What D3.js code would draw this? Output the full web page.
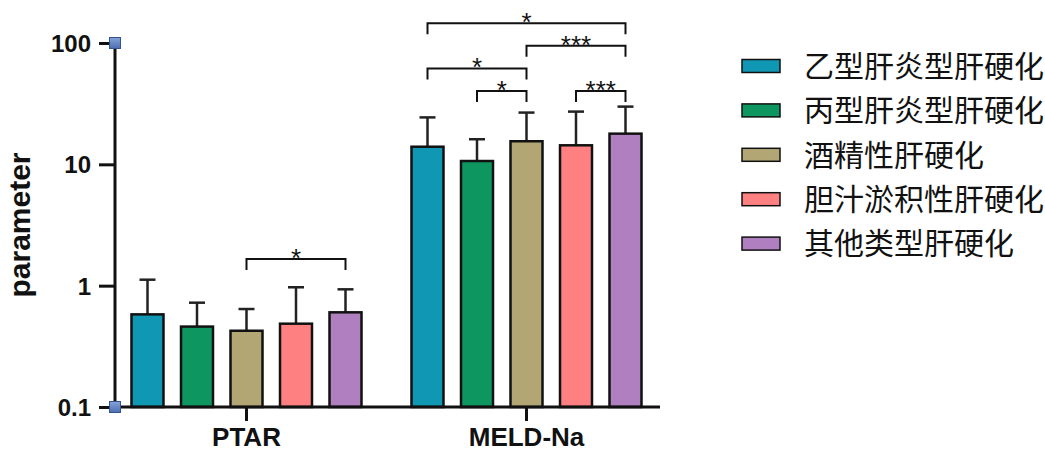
<!DOCTYPE html>
<html>
<head>
<meta charset="utf-8">
<script src="https://cdn.jsdelivr.net/npm/d3@7"></script>
<style>
  html, body { margin: 0; padding: 0; background: #fff; }
</style>
</head>
<body>
<div id="chart"></div>
<script>
// Data.
const groups = ["PTAR", "MELD-Na"];
const series = ["乙型肝炎型肝硬化", "丙型肝炎型肝硬化", "酒精性肝硬化", "胆汁淤积性肝硬化", "其他类型肝硬化"];
const colors = ["#1097b4", "#0e9660", "#b1a674", "#fe8080", "#b07fc0"];
const ptarMean = [0.58, 0.46, 0.425, 0.486, 0.603];
const ptarSD = [0.54, 0.264, 0.217, 0.484, 0.33];
const meldMean = [13.97, 10.65, 15.5, 14.35, 17.9];
const meldSD = [10.4, 5.45, 11.2, 12.85, 12.0];
const yTicks = [0.1, 1, 10, 100];
const yTickLabels = ["0.1", "1", "10", "100"];
// Significance brackets: group, from series index, to series index, label, tier.
const sigGroup = ["PTAR", "MELD-Na", "MELD-Na", "MELD-Na", "MELD-Na", "MELD-Na"];
const sigFrom = [2, 1, 3, 0, 2, 0];
const sigTo = [4, 2, 4, 2, 4, 4];
const sigLabel = ["*", "*", "***", "*", "***", "*"];
const sigTier = [0, 0, 0, 1, 2, 3];

const means = [ptarMean, meldMean];
const sds = [ptarSD, meldSD];

const width = 1045;
const height = 452;
const latin = "'Liberation Sans', Arial, sans-serif";
const cjk = "'Noto Sans CJK SC', sans-serif";

const svg = d3.select("#chart")
  .append("svg")
  .attr("width", width)
  .attr("height", height);

// Scales.
const y = d3.scaleLog().domain([0.1, 100]).range([407, 43]);
const x0 = d3.scaleBand().domain(groups).range([106.5, 666.5]);
const x1 = d3.scaleBand().domain(series).range([0, x0.bandwidth()])
  .paddingInner(0.3535).paddingOuter(0.505);

const barCenter = (g, s) => x0(groups[g]) + x1(series[s]) + x1.bandwidth() / 2;

// Bars.
groups.forEach((grp, gi) => {
  const gSel = svg.append("g");
  series.forEach((name, si) => {
    const v = means[gi][si];
    const top = v + sds[gi][si];
    const cx = barCenter(gi, si);
    // Error bar.
    gSel.append("line")
      .attr("x1", cx).attr("x2", cx)
      .attr("y1", y(v)).attr("y2", y(top))
      .attr("stroke", "#222").attr("stroke-width", 2.5);
    gSel.append("line")
      .attr("x1", cx - 8).attr("x2", cx + 8)
      .attr("y1", y(top)).attr("y2", y(top))
      .attr("stroke", "#222").attr("stroke-width", 2.5);
    gSel.append("rect")
      .attr("x", x0(grp) + x1(name))
      .attr("y", y(v))
      .attr("width", x1.bandwidth())
      .attr("height", y(0.1) - y(v))
      .attr("fill", colors[si])
      .attr("stroke", "#111")
      .attr("stroke-width", 2.5);
  });
});

// Axes.
const yAxis = svg.append("g").attr("transform", "translate(115,0)")
  .call(d3.axisLeft(y).tickValues(yTicks).tickFormat((d, i) => yTickLabels[i]).tickSize(16).tickPadding(8));
yAxis.select(".domain").attr("stroke", "#111").attr("stroke-width", 3).attr("d", `M0,${y(100)}V${y(0.1)}`);
yAxis.selectAll(".tick line").attr("stroke", "#111").attr("stroke-width", 3);
yAxis.selectAll(".tick text")
  .attr("font-family", latin).attr("font-weight", "bold").attr("font-size", 24).attr("fill", "#111")
  .attr("dy", "0.36em");

const xAxis = svg.append("g").attr("transform", `translate(0,${y(0.1)})`)
  .call(d3.axisBottom(x0).tickSize(14).tickPadding(7));
xAxis.select(".domain").attr("stroke", "#111").attr("stroke-width", 3).attr("d", "M115,0H660");
xAxis.selectAll(".tick line").attr("stroke", "#111").attr("stroke-width", 3);
xAxis.selectAll(".tick text")
  .attr("font-family", latin).attr("font-weight", "bold").attr("font-size", 26).attr("fill", "#111");

// Axis end markers.
const grad = svg.append("defs").append("linearGradient")
  .attr("id", "mk").attr("x1", 0).attr("y1", 0).attr("x2", 0).attr("y2", 1);
grad.append("stop").attr("offset", 0).attr("stop-color", "#86a2d8");
grad.append("stop").attr("offset", 1).attr("stop-color", "#4d6fb2");
[100, 0.1].forEach((v) => {
  svg.append("rect")
    .attr("x", 115 - 5.5).attr("y", y(v) - 5.5)
    .attr("width", 11).attr("height", 11)
    .attr("fill", "url(#mk)")
    .attr("stroke", "#34528f").attr("stroke-width", 1);
});

// Y axis title.
svg.append("text")
  .attr("transform", `translate(30,${(y(100) + y(0.1)) / 2}) rotate(-90)`)
  .attr("text-anchor", "middle")
  .attr("font-family", latin).attr("font-weight", "bold").attr("font-size", 30)
  .attr("fill", "#111")
  .text("parameter");

// Significance brackets.
const bracketBase = { "PTAR": 259, "MELD-Na": 91 };
const tierStep = 22.6;
sigGroup.forEach((grp, i) => {
  const gi = groups.indexOf(grp);
  const xa = barCenter(gi, sigFrom[i]);
  const xb = barCenter(gi, sigTo[i]);
  const by = bracketBase[grp] - sigTier[i] * tierStep;
  svg.append("path")
    .attr("d", `M${xa},${by + 11}V${by}H${xb}V${by + 11}`)
    .attr("fill", "none").attr("stroke", "#111").attr("stroke-width", 2);
  svg.append("text")
    .attr("x", (xa + xb) / 2).attr("y", by + 8)
    .attr("text-anchor", "middle")
    .attr("font-family", latin).attr("font-size", 26).attr("fill", "#111")
    .text(sigLabel[i]);
});

// Legend.
const legend = svg.append("g").attr("transform", "translate(742,66)");
series.forEach((name, i) => {
  const row = legend.append("g").attr("transform", `translate(0,${i * 44.4})`);
  row.append("rect")
    .attr("x", 0).attr("y", -6.5).attr("width", 38).attr("height", 13)
    .attr("fill", colors[i]).attr("stroke", "#111").attr("stroke-width", 1.5);
  row.append("text")
    .attr("x", 62).attr("y", 0).attr("dy", "0.36em")
    .attr("font-family", cjk).attr("font-size", 30).attr("fill", "#111")
    .text(name);
});
</script>
</body>
</html>
